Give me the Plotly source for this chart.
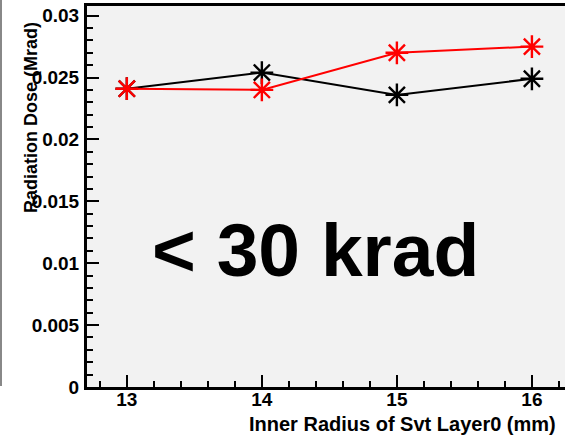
import plotly.graph_objects as go

# Inner radius of the SVT layer 0 (mm)
radius = [13, 14, 15, 16]
# Radiation dose (Mrad) for the two configurations
dose_black = [0.0241, 0.0254, 0.0236, 0.0249]
dose_red = [0.0241, 0.0240, 0.0270, 0.0275]

x_ticks = [13, 14, 15, 16]
y_ticks = [0, 0.005, 0.01, 0.015, 0.02, 0.025, 0.03]
y_tick_text = ["0", "0.005", "0.01", "0.015", "0.02", "0.025", "0.03"]

W, H = 565, 437
L, R, T, B = 87, 0, 6, 50
PW, PH = W - L - R, H - T - B
FONT = "Liberation Sans"


def px_x(x):
    return (x - L) / PW


def px_y(y):
    return (H - B - y) / PH


fig = go.Figure()
for ys, col in [(dose_black, "black"), (dose_red, "red")]:
    fig.add_trace(go.Scatter(
        x=radius, y=ys, mode="lines+markers",
        line=dict(color=col, width=2),
        marker=dict(symbol="asterisk-open", size=19,
                    line=dict(color=col, width=2.4), color=col),
        showlegend=False, cliponaxis=False,
    ))

fig.update_layout(
    width=W, height=H,
    margin=dict(l=L, r=R, t=T, b=B, pad=0),
    paper_bgcolor="white", plot_bgcolor="#f2f2f2",
    font=dict(family=FONT, color="black"),
    xaxis=dict(
        range=[12.705, 16.245], tickvals=x_ticks,
        ticks="inside", ticklen=12, tickwidth=2, tickcolor="black",
        minor=dict(dtick=0.2, tick0=13, ticks="inside", ticklen=6,
                   tickwidth=2, tickcolor="black"),
        showline=True, linecolor="black", linewidth=3, mirror=True,
        showgrid=False, zeroline=False,
        tickfont=dict(size=19, family=FONT, weight="bold"),
        ticklabelstandoff=-7,
    ),
    yaxis=dict(
        range=[0, 0.03078], tickvals=y_ticks, ticktext=y_tick_text,
        ticks="inside", ticklen=12, tickwidth=2, tickcolor="black",
        minor=dict(dtick=0.001, tick0=0, ticks="inside", ticklen=6,
                   tickwidth=2, tickcolor="black"),
        showline=True, linecolor="black", linewidth=3,
        showgrid=False, zeroline=False,
        tickfont=dict(size=19, family=FONT, weight="bold"),
        ticklabelstandoff=1,
    ),
)

# axis titles
fig.add_annotation(
    text="Radiation Dose (Mrad)", textangle=-90,
    xref="paper", yref="paper", x=px_x(31), y=px_y(118),
    xanchor="center", yanchor="middle", showarrow=False,
    font=dict(size=18, family=FONT, weight="bold"),
)
fig.add_annotation(
    text="Inner Radius of Svt Layer0 (mm)",
    xref="paper", yref="paper", x=px_x(558), y=px_y(424),
    xanchor="right", yanchor="middle", showarrow=False,
    font=dict(size=20, family=FONT, weight="bold"),
)

# headline text inside the plot
fig.add_annotation(
    text="< 30 krad",
    xref="paper", yref="paper", x=px_x(315), y=px_y(250),
    xanchor="center", yanchor="middle", showarrow=False,
    font=dict(size=75, family=FONT, weight="bold"),
)

# thin frame line at the left edge of the canvas
fig.add_shape(
    type="line", xref="paper", yref="paper",
    x0=px_x(1), x1=px_x(1), y0=px_y(386), y1=px_y(-5),
    line=dict(color="#888888", width=2), layer="above",
)

fig.write_html("out.html")
